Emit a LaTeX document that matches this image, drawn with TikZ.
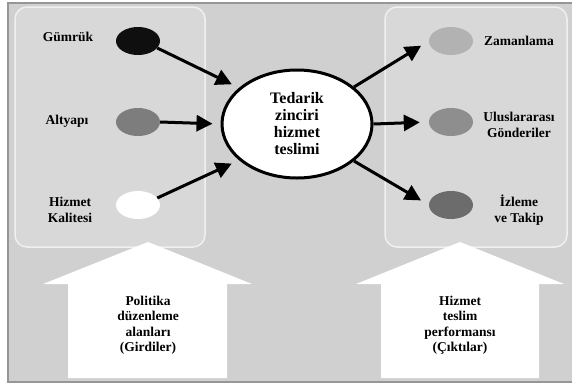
\documentclass[tikz,border=0pt]{standalone}
\usepackage{fontspec}
\setmainfont{Liberation Serif}
\usetikzlibrary{shapes.geometric,arrows.meta}

\definecolor{bggray}{RGB}{208,208,208}
\definecolor{boxgray}{RGB}{216,216,216}
\definecolor{edgegray}{RGB}{150,150,150}
\definecolor{dotblack}{RGB}{15,15,15}
\definecolor{dotmid}{RGB}{125,125,125}
\definecolor{dotlight}{RGB}{178,178,178}
\definecolor{dotgrey}{RGB}{142,142,142}
\definecolor{dotdark}{RGB}{108,108,108}

\begin{document}
\begin{tikzpicture}[x=1pt,y=-1pt,
  dot/.style={ellipse,minimum width=44pt,minimum height=28pt,inner sep=0pt},
  lbl/.style={font=\fontsize{13.5}{15.5}\selectfont\bfseries,align=center},
  arr/.style={line width=3pt,-{Triangle[length=16pt,width=16pt]},shorten >=8pt},
  panel/.style={draw=white!94!black,line width=1.5pt,fill=boxgray,rounded corners=12pt},
  bigarrow/.style={fill=white,draw=none}]
\useasboundingbox (0,0) rectangle (572,386);
\clip (0,0) rectangle (572,386);
\fill[white] (0,0) rectangle (572,386);
\draw[fill=bggray,draw=edgegray,line width=1.2pt] (8,3) rectangle (590,382);
% panels
\draw[panel] (15,7) rectangle (205,247);
\draw[panel] (385,7) rectangle (567,247);
% big arrows
\fill[bigarrow] (148,242) -- (252,284) -- (227,284) -- (227,378) -- (68,378) -- (68,284) -- (43,284) -- cycle;
\fill[bigarrow] (460,242) -- (564,284) -- (539,284) -- (539,378) -- (381,378) -- (381,284) -- (356,284) -- cycle;
\node[lbl] (girdi) at (148,325) {Politika\\düzenleme\\alanları\\(Girdiler)};
\node[lbl] (cikti) at (460,325) {Hizmet\\teslim\\performansı\\(Çıktılar)};
% inputs
\node[dot,fill=dotblack] (gumruk) at (138,41) {};
\node[dot,fill=dotmid] (altyapi) at (138,122) {};
\node[dot,fill=white] (kalite) at (138,205) {};
\node[lbl] (gumrukl) at (68,37) {Gümrük};
\node[lbl] (altyapil) at (67,121) {Altyapı};
\node[lbl] (kalitel) at (70,210) {Hizmet\\Kalitesi};
% center
\node[ellipse,draw,line width=3pt,fill=white,minimum width=150pt,minimum height=108pt,
  font=\fontsize{16}{17}\selectfont\bfseries,align=center] (tedarik) at (297,124)
  {Tedarik\\zinciri\\hizmet\\teslimi};
% outputs
\node[dot,fill=dotlight] (zaman) at (451,41) {};
\node[dot,fill=dotgrey] (gonder) at (451,122) {};
\node[dot,fill=dotdark] (izleme) at (451,205) {};
\node[lbl] (zamanl) at (519,41) {Zamanlama};
\node[lbl] (gonderl) at (519,125) {Uluslararası\\Gönderiler};
\node[lbl] (izlemel) at (519,210) {İzleme\\ve Takip};
% connectors
\draw[arr] (gumruk.-20) -- (tedarik.148);
\draw[arr] (altyapi.east) -- (tedarik.west);
\draw[arr] (kalite.20) -- (tedarik.212);
\draw[arr,shorten >=9pt] (tedarik.33) -- (zaman.west);
\draw[arr,shorten >=9pt] (tedarik.east) -- (gonder.west);
\draw[arr,shorten >=9pt] (tedarik.-33) -- (izleme.west);
\end{tikzpicture}
\end{document}
